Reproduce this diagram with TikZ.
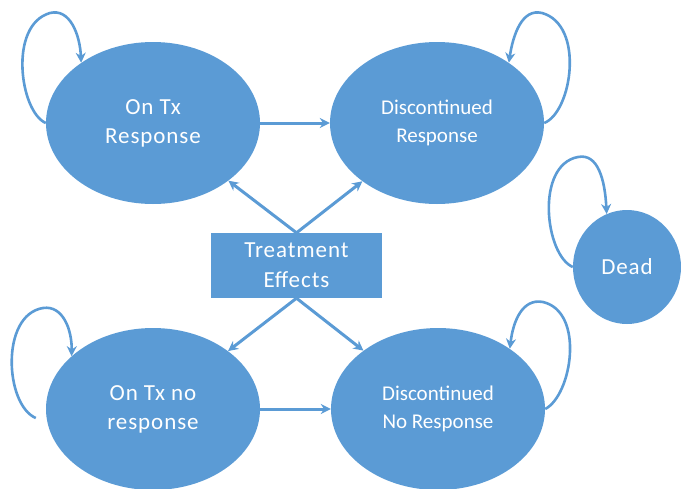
\documentclass[tikz,border=0pt]{standalone}
\usepackage{fontspec}
\setmainfont{Carlito}
\newfontfamily\widefont{Carlito}[LetterSpace=4]
\usetikzlibrary{shapes.geometric,arrows.meta}
\definecolor{obl}{RGB}{91,155,213}
\tikzset{
  stateA/.style={ellipse, fill=obl, draw=none, minimum width=214pt, minimum height=162pt, inner sep=0pt, align=center, text=white, font=\widefont\fontsize{23}{29}\selectfont},
  stateB/.style={stateA, font=\rmfamily\fontsize{21}{28}\selectfont},
  effbox/.style={rectangle, fill=obl, draw=none, minimum width=171pt, minimum height=65pt, inner sep=0pt, align=center, text=white, font=\widefont\fontsize{23}{30}\selectfont},
  conn/.style={draw=obl, line width=3pt, -{Stealth[length=10pt,width=10pt]}},
  loopc/.style={draw=obl, line width=2.6pt, -{Stealth[length=10pt,width=10pt]}}
}
\begin{document}
\begin{tikzpicture}[x=1pt,y=-1pt]
\useasboundingbox (0,0) rectangle (681,488);
\node[stateA] (e1) at (153,123) {On Tx\\Response};
\node[stateB] (e2) at (437,123) {Discontinued\\Response};
\node[stateA] (e3) at (153,409) {On Tx no\\response};
\node[stateB] (e4) at (438,409) {Discontinued\\No Response};
\node[ellipse, fill=obl, minimum width=108pt, minimum height=114pt, inner sep=0pt, text=white, font=\widefont\fontsize{23}{29}\selectfont] (dead) at (627,267) {Dead};
\node[effbox] (te) at (296.5,265.5) {Treatment\\Effects};
\coordinate (l3) at ([shift={(-10,9)}]e3.west);
% horizontal
\draw[conn] (e1.east) -- (e2.west |- e1.east);
\draw[conn] (e3.east) -- (e4.west |- e3.east);
% treatment effects
\draw[conn] (te.north) -- (e1);
\draw[conn] (te.north) -- (e2);
\draw[conn] (te.south) -- (e3);
\draw[conn] (te.south) -- (e4);
% self loops
\draw[loopc] (e1.west) .. controls (20,112) and (8,25) .. (50,13) .. controls (70,8) and (80,35) .. (e1.140);
\draw[loopc] (e2.east) .. controls (572,112) and (585,25) .. (542,13) .. controls (522,8) and (513,35) .. (e2.40);
\draw[loopc] (dead.west) .. controls (545,255) and (535,165) .. (578,157) .. controls (598,153) and (605,180) .. (dead.111);
\draw[loopc] (l3) .. controls (5,405) and (0,315) .. (43,308) .. controls (63,305) and (72,330) .. (e3.147);
\draw[loopc] (e4.east) .. controls (572,395) and (585,312) .. (543,302) .. controls (522,298) and (513,322) .. (e4.40);
\end{tikzpicture}
\end{document}
